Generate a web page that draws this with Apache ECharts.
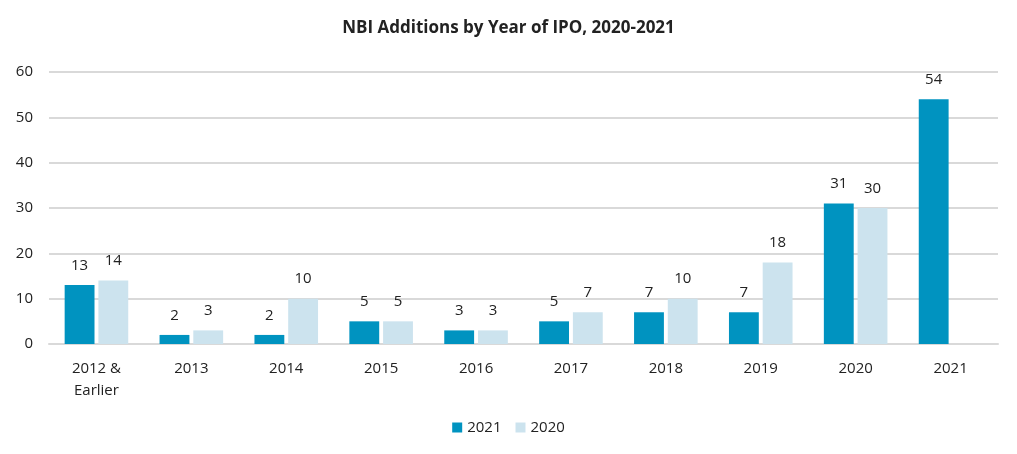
<!DOCTYPE html>
<html><head><meta charset="utf-8">
<script src="https://cdn.jsdelivr.net/npm/echarts@6/dist/echarts.min.js"></script>
<style>html,body{margin:0;padding:0;background:#fff}#c{width:1017px;height:454px}</style>
</head><body><div id="c"></div>
<script>
const categories = ['2012 &\nEarlier','2013','2014','2015','2016','2017','2018','2019','2020','2021'];
const values2021 = [13,2,2,5,3,5,7,7,31,54];
const values2020 = [14,3,10,5,3,7,10,18,30,null];
const yTicks = [0,10,20,30,40,50,60];
const font = '"Open Sans", "Noto Sans", sans-serif';
const chart = echarts.init(document.getElementById('c'));
const lbl = {show:true, position:'top', distance:12, color:'#222', fontSize:15, fontFamily:font};
chart.setOption({
  animation:false,
  title:{text:'NBI Additions by Year of IPO, 2020-2021', left:'center', top:15,
    textStyle:{fontFamily:font, fontWeight:'bold', fontSize:17, color:'#222'}},
  legend:{bottom:14, left:'center', itemWidth:10, itemHeight:10, itemGap:14,
    textStyle:{fontFamily:font, fontSize:15, color:'#222'},
    data:[{name:'2021',icon:'rect'},{name:'2020',icon:'rect'}]},
  grid:{left:49, right:19, top:72, bottom:110},
  xAxis:{type:'category', data:categories,
    axisLine:{lineStyle:{color:'#d9d9d9', width:2}}, axisTick:{show:false},
    axisLabel:{fontFamily:font, fontSize:15, color:'#222', margin:14, lineHeight:22}},
  yAxis:{type:'value', min:yTicks[0], max:yTicks[yTicks.length-1], interval:10,
    axisLine:{show:false}, axisTick:{show:false},
    splitLine:{lineStyle:{color:'#d9d9d9', width:2}},
    axisLabel:{fontFamily:font, fontSize:15, color:'#222', margin:16}},
  series:[
    {name:'2021', type:'bar', data:values2021, itemStyle:{color:'#0093c0'},
     barGap:'13%', barCategoryGap:'33%', label:lbl},
    {name:'2020', type:'bar', data:values2020, itemStyle:{color:'#cce3ee'}, label:lbl}
  ]
});
</script></body></html>
